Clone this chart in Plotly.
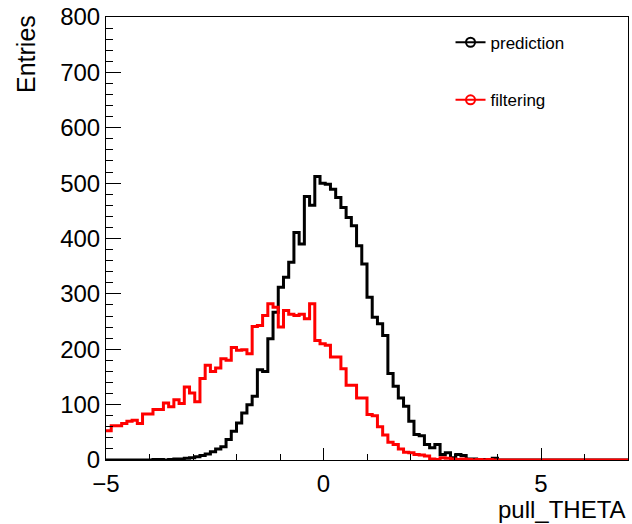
import plotly.graph_objects as go

# Histogram binning: 100 bins from -5 to 7
N_BINS = 100
X_MIN = -5.0
X_MAX = 7.0
edges = [X_MIN + (X_MAX - X_MIN) * k / N_BINS for k in range(N_BINS + 1)]

# Entries per bin
prediction = [
    0, 0, 0, 0, 0, 0, 0, 0, 0, 1,
    1, 0, 1, 2, 2, 3, 4, 6, 8, 11,
    15, 20, 24, 37, 52, 67, 85, 100, 115, 163,
    160, 219, 267, 312, 330, 357, 411, 390, 476, 460,
    512, 500, 498, 489, 474, 456, 438, 423, 387, 354,
    294, 258, 246, 225, 156, 133, 112, 97, 70, 46,
    44, 28, 22, 28, 10, 13, 4, 10, 8, 2,
    2, 1, 1, 0, 3, 0, 0, 0, 0, 0,
    0, 0, 0, 0, 0, 0, 0, 0, 0, 0,
    0, 0, 0, 0, 0, 0, 0, 0, 0, 0,
]
filtering = [
    53, 62, 62, 66, 70, 72, 66, 83, 83, 91,
    91, 103, 96, 109, 102, 132, 121, 105, 147, 171,
    160, 166, 183, 180, 203, 198, 199, 192, 241, 243,
    261, 282, 276, 240, 270, 263, 261, 263, 255, 282,
    216, 210, 207, 186, 186, 165, 135, 135, 112, 112,
    82, 80, 60, 45, 32, 28, 20, 14, 13, 10,
    9, 7, 2, 1, 4, 3, 2, 1, 2, 1,
    0, 1, 0, 1, 0, 0, 0, 0, 0, 0,
    0, 0, 0, 0, 0, 0, 0, 0, 0, 0,
    0, 0, 0, 0, 0, 0, 0, 0, 0, 0,
]
series_names = ["prediction", "filtering"]
series_colors = ["black", "#ff0000"]

FONT = "Liberation Sans, Arial, Helvetica, sans-serif"

fig = go.Figure()
for vals, name, col in zip([prediction, filtering], series_names, series_colors):
    fig.add_trace(go.Scatter(
        x=edges, y=vals + [vals[-1]], mode="lines",
        line=dict(color=col, width=3, shape="hv"),
        showlegend=False, hoverinfo="skip"))

for i, (name, col) in enumerate(zip(series_names, series_colors)):
    fig.add_trace(go.Scatter(
        x=[None], y=[None], mode="lines+markers", name=name,
        line=dict(color=col, width=2),
        marker=dict(symbol="circle-open", size=9, color=col, line=dict(width=2, color=col)),
        legend="legend" if i == 0 else "legend2"))

axis_common = dict(
    showline=True, mirror=True, linecolor="black", linewidth=1,
    showgrid=False, zeroline=False, ticks="inside", tickcolor="black",
    tickwidth=1, tickfont=dict(family=FONT, size=24, color="black"),
)

fig.update_layout(
    width=632, height=524,
    margin=dict(l=106, r=3, t=15, b=64),
    paper_bgcolor="white", plot_bgcolor="white",
    font=dict(family=FONT, color="black"),
    xaxis=dict(range=[X_MIN, X_MAX], tickvals=[-5, 0, 5], ticklen=12,
               ticklabelstandoff=2,
               minor=dict(tick0=0, dtick=1, ticks="inside", ticklen=6, tickcolor="black", tickwidth=1),
               **axis_common),
    yaxis=dict(range=[0, 800], tick0=0, dtick=100, ticklen=15,
               minor=dict(tick0=0, dtick=20, ticks="inside", ticklen=7, tickcolor="black", tickwidth=1),
               **axis_common),
    legend=dict(x=0.66, y=0.942, xanchor="left", yanchor="middle",
                bgcolor="rgba(0,0,0,0)", font=dict(family=FONT, size=17, color="black")),
    legend2=dict(x=0.66, y=0.812, xanchor="left", yanchor="middle",
                 bgcolor="rgba(0,0,0,0)", font=dict(family=FONT, size=17, color="black")),
    annotations=[
        dict(text="Entries", xref="paper", yref="paper", x=0, y=1,
             xanchor="center", yanchor="top", xshift=-80, yshift=4, textangle=-90,
             showarrow=False, font=dict(family=FONT, size=25, color="black")),
        dict(text="pull_THETA", xref="paper", yref="paper", x=1, y=0,
             xanchor="right", yanchor="top", yshift=-34, xshift=0,
             showarrow=False, font=dict(family=FONT, size=24, color="black")),
    ],
)

fig.write_html("out.html")
